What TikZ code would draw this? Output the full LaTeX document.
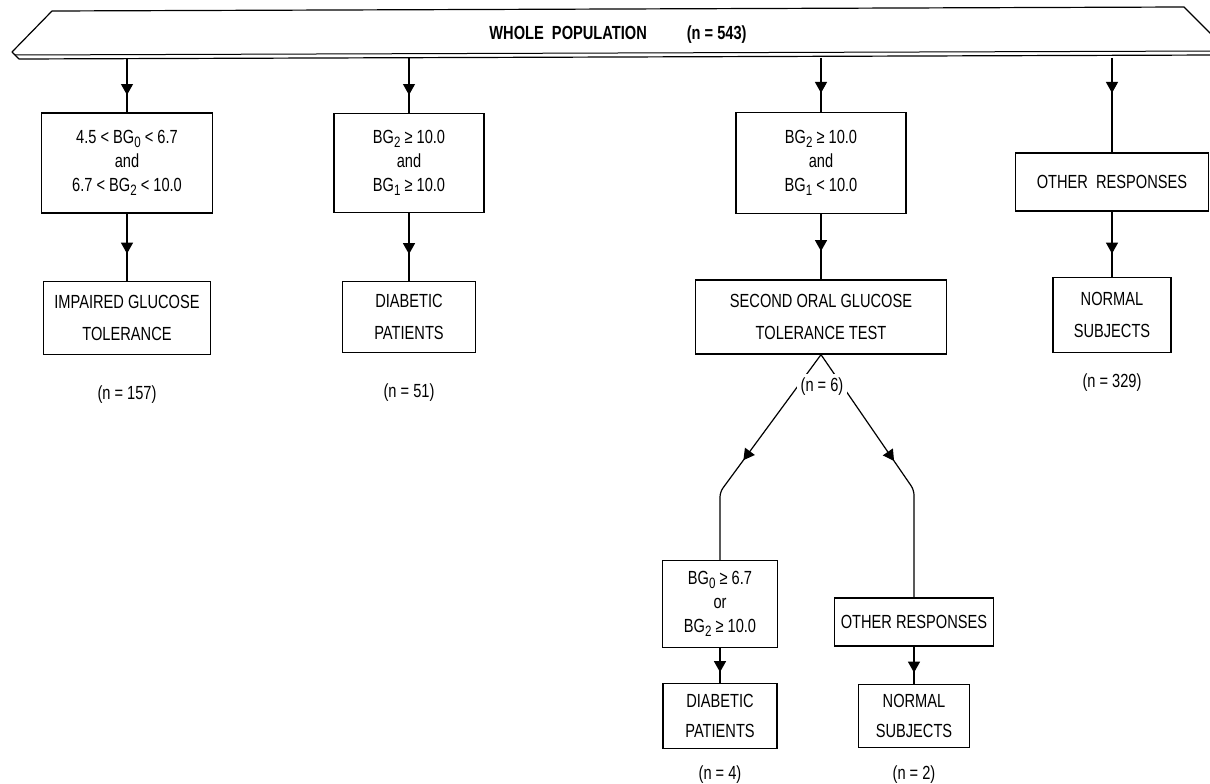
\documentclass[tikz,border=0pt]{standalone}
\usepackage{fontspec}
\setmainfont{Liberation Sans}[FakeStretch=0.77]
\usetikzlibrary{arrows.meta,decorations.markings}
\newcommand{\bgidx}[1]{\raisebox{-4pt}{\fontsize{15}{15}\selectfont #1}}

\begin{document}
\begin{tikzpicture}[x=1pt,y=-1pt,
        font=\fontsize{19}{24}\selectfont,
        box/.style={draw,line width=1.3pt,align=center,inner sep=0pt},
        flow/.style={line width=1.2pt,postaction={decorate},
            decoration={markings,mark=at position #1 with {\arrow{Triangle[width=12pt,length=11pt]}}}},
        flow/.default=38pt]
        % one unit = one pixel of the page, y runs downwards
        % page is 1210 x 784, the right tip of the slab runs off the page
        \useasboundingbox (0,0) rectangle (1210,784);

        % the slab on top
        \draw[line width=1.2pt,line join=round] (12,52) -- (52,11) -- (1184,7) -- (1224,47) -- (1217,55) -- (19,59) -- cycle;
        \draw[line width=1pt] (15,55) -- (1221,51);
        \node[font=\fontsize{19}{24}\selectfont\bfseries] (pop) at (618,35) {WHOLE\ \ POPULATION\hspace{40pt}(n = 543)};
        \coordinate (slab) at (0,58); % bottom edge of the slab

        % first row: criteria
        \node[box,minimum width=171pt,minimum height=100pt] (crit1) at (127,163)
            {4.5 < BG\bgidx{0} < 6.7\\and\\6.7 < BG\bgidx{2} < 10.0};
        \node[box,minimum width=150pt,minimum height=99pt] (crit2) at (409,163)
            {BG\bgidx{2} ≥ 10.0\\and\\BG\bgidx{1} ≥ 10.0};
        \node[box,minimum width=170pt,minimum height=101pt] (crit3) at (821,163)
            {BG\bgidx{2} ≥ 10.0\\and\\BG\bgidx{1} < 10.0};
        \node[box,minimum width=193pt,minimum height=58pt] (crit4) at (1112,182) {OTHER\ \ RESPONSES};

        % second row: outcomes
        \node[box,minimum width=167pt,minimum height=73pt] (res1) at (127,318) {IMPAIRED GLUCOSE\\[8pt]TOLERANCE};
        \node[box,minimum width=133pt,minimum height=71pt] (res2) at (409,317) {DIABETIC\\[8pt]PATIENTS};
        \node[box,minimum width=251pt,minimum height=74pt] (ogtt) at (821,317) {SECOND ORAL GLUCOSE\\[8pt]TOLERANCE TEST};
        \node[box,minimum width=118pt,minimum height=75pt] (res4) at (1112,315) {NORMAL\\[8pt]SUBJECTS};

        \node (n1) at (127,395) {(n = 157)};
        \node (n2) at (409,393) {(n = 51)};
        \node (n4) at (1112,383) {(n = 329)};

        % retested group
        \node[box,minimum width=115pt,minimum height=87pt] (crit5) at (720,604)
            {BG\bgidx{0} ≥ 6.7\\or\\BG\bgidx{2} ≥ 10.0};
        \node[box,minimum width=159pt,minimum height=48pt] (crit6) at (914,622) {OTHER RESPONSES};
        \node[box,minimum width=114pt,minimum height=65pt] (res5) at (720,716) {DIABETIC\\[6pt]PATIENTS};
        \node[box,minimum width=111pt,minimum height=63pt] (res6) at (914,716) {NORMAL\\[6pt]SUBJECTS};

        \node (n5) at (720,775) {(n = 4)};
        \node (n6b) at (914,775) {(n = 2)};

        % arrows from the slab
        \draw[flow=37pt] (crit1.north |- slab) -- (crit1.north);
        \draw[flow=37pt] (crit2.north |- slab) -- (crit2.north);
        \draw[flow=35pt] (crit3.north |- slab) -- (crit3.north);
        \draw[flow=35pt] (crit4.north |- slab) -- (crit4.north);

        \draw[flow=40pt] (crit1) -- (res1);
        \draw[flow=41pt] (crit2) -- (res2);
        \draw[flow=37pt] (crit3) -- (ogtt);
        \draw[flow=42pt] (crit4) -- (res4);

        % split below the second test
        \coordinate (kl) at (720,492);
        \coordinate (kr) at (914,490);
        \draw[flow=131pt,rounded corners=5pt] (ogtt.south) -- (kl) -- (crit5.north);
        \draw[flow=129pt,rounded corners=5pt] (ogtt.south) -- (kr) -- (crit6.north);
        \node[fill=white,inner sep=4pt] (n3) at (822,387) {(n = 6)};

        \draw[flow=24pt] (crit5) -- (res5);
        \draw[flow=26pt] (crit6) -- (res6);
    \end{tikzpicture}
\end{document}
